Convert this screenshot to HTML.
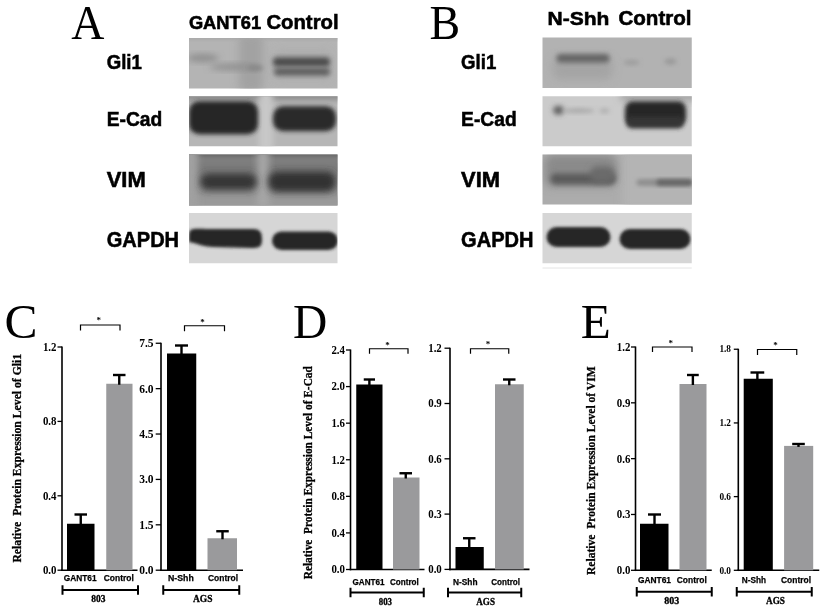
<!DOCTYPE html>
<html><head><meta charset="utf-8"><style>
html,body{margin:0;padding:0;background:#fff;width:824px;height:610px;overflow:hidden}
svg{display:block;filter:blur(0.35px)}
</style></head><body>
<svg width="824" height="610" viewBox="0 0 824 610">
<defs><filter id="b14" x="-50%" y="-50%" width="200%" height="200%"><feGaussianBlur stdDeviation="1.4"/></filter><filter id="b15" x="-50%" y="-50%" width="200%" height="200%"><feGaussianBlur stdDeviation="1.5"/></filter><filter id="b20" x="-50%" y="-50%" width="200%" height="200%"><feGaussianBlur stdDeviation="2.0"/></filter><filter id="b22" x="-50%" y="-50%" width="200%" height="200%"><feGaussianBlur stdDeviation="2.2"/></filter><filter id="b24" x="-50%" y="-50%" width="200%" height="200%"><feGaussianBlur stdDeviation="2.4"/></filter><filter id="b25" x="-50%" y="-50%" width="200%" height="200%"><feGaussianBlur stdDeviation="2.5"/></filter><filter id="b26" x="-50%" y="-50%" width="200%" height="200%"><feGaussianBlur stdDeviation="2.6"/></filter><filter id="b28" x="-50%" y="-50%" width="200%" height="200%"><feGaussianBlur stdDeviation="2.8"/></filter><filter id="b30" x="-50%" y="-50%" width="200%" height="200%"><feGaussianBlur stdDeviation="3.0"/></filter><filter id="b35" x="-50%" y="-50%" width="200%" height="200%"><feGaussianBlur stdDeviation="3.5"/></filter><filter id="b40" x="-50%" y="-50%" width="200%" height="200%"><feGaussianBlur stdDeviation="4.0"/></filter></defs>
<rect width="824" height="610" fill="#fff"/>
<g>
<rect x="189" y="38" width="148.5" height="50.5" fill="#b4b4b4"/>
<svg x="189" y="38" width="148.5" height="50.5" overflow="hidden">
<rect x="50" y="-5" width="24" height="60" rx="8" fill="#a2a2a2" opacity="1.0" filter="url(#b40)"/>
<rect x="-5" y="-5" width="160" height="6" rx="0" fill="#a6a6a6" opacity="1.0" filter="url(#b20)"/>
<ellipse cx="14" cy="20" rx="16" ry="4" fill="#8e8e8e" opacity="1.0" filter="url(#b30)"/>
<ellipse cx="46" cy="29" rx="26" ry="3.5" fill="#909090" opacity="1.0" filter="url(#b30)"/>
<ellipse cx="66" cy="30" rx="8" ry="3" fill="#888888" opacity="1.0" filter="url(#b20)"/>
<rect x="86" y="12" width="56" height="30" rx="6" fill="#a8a8a8" opacity="0.6" filter="url(#b40)"/>
<rect x="84" y="19.5" width="57" height="9" rx="4" fill="#4a4a4a" opacity="1.0" filter="url(#b26)"/>
<rect x="85" y="30" width="56" height="7.5" rx="3.5" fill="#5c5c5c" opacity="1.0" filter="url(#b26)"/>
</svg>
<rect x="189" y="96.25" width="148.5" height="50.0" fill="#b6b6b6"/>
<svg x="189" y="96.25" width="148.5" height="50.0" overflow="hidden">
<rect x="-5" y="-5" width="160" height="9" rx="0" fill="#8e8e8e" opacity="1.0" filter="url(#b25)"/>
<rect x="70" y="-5" width="14" height="60" rx="4" fill="#c8c8c8" opacity="1.0" filter="url(#b30)"/>
<rect x="0" y="5" width="69" height="33" rx="10" fill="#262626" opacity="1.0" filter="url(#b22)"/>
<rect x="84" y="10" width="63" height="25" rx="10" fill="#2a2a2a" opacity="1.0" filter="url(#b22)"/>
</svg>
<rect x="189" y="154.5" width="148.5" height="51.0" fill="#8a8a8a"/>
<svg x="189" y="154.5" width="148.5" height="51.0" overflow="hidden">
<rect x="-5" y="-5" width="160" height="8" rx="0" fill="#626262" opacity="1.0" filter="url(#b25)"/>
<rect x="-5" y="4" width="160" height="18" rx="0" fill="#7a7a7a" opacity="1.0" filter="url(#b40)"/>
<rect x="-5" y="40" width="160" height="20" rx="0" fill="#9a9a9a" opacity="1.0" filter="url(#b35)"/>
<rect x="-6" y="-5" width="15" height="60" rx="0" fill="#a0a0a0" opacity="1.0" filter="url(#b30)"/>
<rect x="68" y="-5" width="12" height="60" rx="4" fill="#a6a6a6" opacity="1.0" filter="url(#b35)"/>
<rect x="11" y="19" width="57" height="16.5" rx="8" fill="#353535" opacity="1.0" filter="url(#b35)"/>
<rect x="79" y="17" width="68" height="20.5" rx="9" fill="#313131" opacity="1.0" filter="url(#b35)"/>
</svg>
<rect x="189" y="213" width="148.5" height="50.25" fill="#d6d6d6"/>
<svg x="189" y="213" width="148.5" height="50.25" overflow="hidden">
<path d="M0,22 C0,14 6,16 20,16 L64,16 C72,16 73,20 73,27 C73,34 70,35 62,35 L24,34 C14,34 8,30 0,29 Z" fill="#262626" opacity="1.0" filter="url(#b15)"/>
<rect x="83" y="18.5" width="66" height="18.5" rx="9.5" fill="#282828" opacity="1.0" filter="url(#b15)"/>
</svg>
<rect x="542.5" y="37.5" width="149.25" height="50.5" fill="#b2b2b2"/>
<svg x="542.5" y="37.5" width="149.25" height="50.5" overflow="hidden">
<rect x="10" y="20" width="60" height="22" rx="8" fill="#a4a4a4" opacity="1.0" filter="url(#b40)"/>
<rect x="14" y="16.5" width="53" height="8.5" rx="4" fill="#646464" opacity="1.0" filter="url(#b26)"/>
<ellipse cx="89" cy="25" rx="8" ry="2.5" fill="#9c9c9c" opacity="1.0" filter="url(#b20)"/>
<ellipse cx="128" cy="24" rx="6" ry="3" fill="#989898" opacity="1.0" filter="url(#b20)"/>
</svg>
<rect x="542.5" y="96.25" width="149.25" height="50.0" fill="#cbcbcb"/>
<svg x="542.5" y="96.25" width="149.25" height="50.0" overflow="hidden">
<rect x="78" y="-5" width="80" height="10" rx="0" fill="#a8a8a8" opacity="1.0" filter="url(#b30)"/>
<ellipse cx="16" cy="14" rx="5.5" ry="4.5" fill="#626262" opacity="1.0" filter="url(#b24)"/>
<ellipse cx="36" cy="14.5" rx="16" ry="2.5" fill="#aaaaaa" opacity="1.0" filter="url(#b22)"/>
<ellipse cx="62" cy="14.5" rx="5" ry="2.5" fill="#b0b0b0" opacity="1.0" filter="url(#b22)"/>
<rect x="82.5" y="5" width="61" height="24" rx="8" fill="#262626" opacity="1.0" filter="url(#b22)"/>
<rect x="84" y="20" width="57" height="12" rx="5" fill="#363636" opacity="1.0" filter="url(#b22)"/>
</svg>
<rect x="542.5" y="154.5" width="149.25" height="50.0" fill="#acacac"/>
<svg x="542.5" y="154.5" width="149.25" height="50.0" overflow="hidden">
<rect x="80" y="-5" width="80" height="60" rx="0" fill="#b4b4b4" opacity="1.0" filter="url(#b40)"/>
<rect x="2" y="0" width="72" height="32" rx="8" fill="#8a8a8a" opacity="1.0" filter="url(#b40)"/>
<rect x="8" y="19" width="65" height="11" rx="5" fill="#5c5c5c" opacity="1.0" filter="url(#b28)"/>
<rect x="48" y="12" width="24" height="16" rx="6" fill="#6a6a6a" opacity="1.0" filter="url(#b30)"/>
<rect x="94" y="25" width="56" height="6" rx="3" fill="#8a8a8a" opacity="1.0" filter="url(#b20)"/>
<rect x="114" y="25" width="36" height="6" rx="3" fill="#626262" opacity="1.0" filter="url(#b20)"/>
</svg>
<rect x="542.5" y="213" width="149.25" height="50.25" fill="#d6d6d6"/>
<svg x="542.5" y="213" width="149.25" height="50.25" overflow="hidden">
<rect x="4" y="14" width="64" height="20" rx="10" fill="#262626" opacity="1.0" filter="url(#b14)"/>
<rect x="77" y="16" width="71" height="20" rx="10" fill="#282828" opacity="1.0" filter="url(#b14)"/>
</svg>
<line x1="542.5" y1="268" x2="691.75" y2="268" stroke="#e4e4e4" stroke-width="1"/>
</g>
<text transform="translate(71.24,39.18) scale(0.459,0.478)" x="0" y="0" font-family='"Liberation Serif", serif' font-size="100">A</text>
<text transform="translate(429.6,38.7) scale(0.459,0.483)" x="0" y="0" font-family='"Liberation Serif", serif' font-size="100">B</text>
<text x="188.9" y="29.4" font-family='"Liberation Sans", sans-serif' font-size="17.8" font-weight="bold" text-anchor="start" textLength="72.2" lengthAdjust="spacingAndGlyphs" stroke="#000" stroke-width="0.55">GANT61</text>
<text x="266.4" y="29.4" font-family='"Liberation Sans", sans-serif' font-size="20" font-weight="bold" text-anchor="start" textLength="72.2" lengthAdjust="spacingAndGlyphs" stroke="#000" stroke-width="0.55">Control</text>
<text x="547.6" y="25.1" font-family='"Liberation Sans", sans-serif' font-size="18.8" font-weight="bold" text-anchor="start" textLength="61.8" lengthAdjust="spacingAndGlyphs" stroke="#000" stroke-width="0.55">N-Shh</text>
<text x="618.4" y="25.1" font-family='"Liberation Sans", sans-serif' font-size="19.4" font-weight="bold" text-anchor="start" textLength="73.2" lengthAdjust="spacingAndGlyphs" stroke="#000" stroke-width="0.55">Control</text>
<text x="106.7" y="69.1" font-family='"Liberation Sans", sans-serif' font-size="21" font-weight="bold" text-anchor="start" textLength="35.2" lengthAdjust="spacingAndGlyphs" stroke="#000" stroke-width="0.55">Gli1</text>
<text x="106.7" y="126.3" font-family='"Liberation Sans", sans-serif' font-size="21" font-weight="bold" text-anchor="start" textLength="55.6" lengthAdjust="spacingAndGlyphs" stroke="#000" stroke-width="0.55">E-Cad</text>
<text x="106.7" y="187.0" font-family='"Liberation Sans", sans-serif' font-size="21.5" font-weight="bold" text-anchor="start" textLength="39.0" lengthAdjust="spacingAndGlyphs" stroke="#000" stroke-width="0.55">VIM</text>
<text x="106.7" y="246.9" font-family='"Liberation Sans", sans-serif' font-size="21.5" font-weight="bold" text-anchor="start" textLength="72.4" lengthAdjust="spacingAndGlyphs" stroke="#000" stroke-width="0.55">GAPDH</text>
<text x="461.1" y="69.1" font-family='"Liberation Sans", sans-serif' font-size="21" font-weight="bold" text-anchor="start" textLength="35.2" lengthAdjust="spacingAndGlyphs" stroke="#000" stroke-width="0.55">Gli1</text>
<text x="461.1" y="126.3" font-family='"Liberation Sans", sans-serif' font-size="21" font-weight="bold" text-anchor="start" textLength="55.6" lengthAdjust="spacingAndGlyphs" stroke="#000" stroke-width="0.55">E-Cad</text>
<text x="461.1" y="187.0" font-family='"Liberation Sans", sans-serif' font-size="21.5" font-weight="bold" text-anchor="start" textLength="39.0" lengthAdjust="spacingAndGlyphs" stroke="#000" stroke-width="0.55">VIM</text>
<text x="461.1" y="246.9" font-family='"Liberation Sans", sans-serif' font-size="21.5" font-weight="bold" text-anchor="start" textLength="72.4" lengthAdjust="spacingAndGlyphs" stroke="#000" stroke-width="0.55">GAPDH</text>
<text transform="translate(4.52,337.94) scale(0.495,0.479)" x="0" y="0" font-family='"Liberation Serif", serif' font-size="100">C</text>
<line x1="62" y1="346.5" x2="62" y2="570.95" stroke="#000" stroke-width="1.6"/>
<line x1="61.2" y1="570.2" x2="137.5" y2="570.2" stroke="#000" stroke-width="1.6"/>
<line x1="57.5" y1="570.2" x2="62" y2="570.2" stroke="#000" stroke-width="1.3"/>
<text x="56.5" y="574.1" font-family='"Liberation Serif", serif' font-size="12" font-weight="bold" text-anchor="end" textLength="13.6" lengthAdjust="spacingAndGlyphs" >0.0</text>
<line x1="57.5" y1="495.8" x2="62" y2="495.8" stroke="#000" stroke-width="1.3"/>
<text x="56.5" y="499.7" font-family='"Liberation Serif", serif' font-size="12" font-weight="bold" text-anchor="end" textLength="13.6" lengthAdjust="spacingAndGlyphs" >0.4</text>
<line x1="57.5" y1="421.4" x2="62" y2="421.4" stroke="#000" stroke-width="1.3"/>
<text x="56.5" y="425.29999999999995" font-family='"Liberation Serif", serif' font-size="12" font-weight="bold" text-anchor="end" textLength="13.6" lengthAdjust="spacingAndGlyphs" >0.8</text>
<line x1="57.5" y1="347.0" x2="62" y2="347.0" stroke="#000" stroke-width="1.3"/>
<text x="56.5" y="350.9" font-family='"Liberation Serif", serif' font-size="12" font-weight="bold" text-anchor="end" textLength="13.6" lengthAdjust="spacingAndGlyphs" >1.2</text>
<rect x="67" y="523.75" width="27.5" height="46.450000000000045" fill="#000"/>
<line x1="80.75" y1="514.5" x2="80.75" y2="524.75" stroke="#000" stroke-width="2.4"/>
<line x1="74.5" y1="514.5" x2="87" y2="514.5" stroke="#000" stroke-width="2.4"/>
<rect x="106.25" y="383.75" width="26.25" height="186.45000000000005" fill="#9a9a9c"/>
<line x1="119.25" y1="375" x2="119.25" y2="384.75" stroke="#000" stroke-width="2.4"/>
<line x1="113" y1="375" x2="125.5" y2="375" stroke="#000" stroke-width="2.4"/>
<polyline points="80.5,330.5 80.5,325 120,325 120,330.5" fill="none" stroke="#000" stroke-width="1.2"/>
<text x="98.75" y="323.2" font-family='"Liberation Serif", serif' font-size="9" font-weight="bold" text-anchor="middle" >*</text>
<text x="63.75" y="581" font-family='"Liberation Sans", sans-serif' font-size="9" font-weight="bold" text-anchor="start" textLength="32.75" lengthAdjust="spacingAndGlyphs" stroke="#000" stroke-width="0.25">GANT61</text>
<text x="103.75" y="581" font-family='"Liberation Sans", sans-serif' font-size="9" font-weight="bold" text-anchor="start" textLength="30.0" lengthAdjust="spacingAndGlyphs" stroke="#000" stroke-width="0.25">Control</text>
<line x1="62.5" y1="590" x2="138" y2="590" stroke="#000" stroke-width="2"/>
<line x1="62.5" y1="585.25" x2="62.5" y2="594.75" stroke="#000" stroke-width="2"/>
<line x1="138" y1="585.25" x2="138" y2="594.75" stroke="#000" stroke-width="2"/>
<text x="91.25" y="602" font-family='"Liberation Serif", serif' font-size="9.5" font-weight="bold" text-anchor="start" textLength="14.25" lengthAdjust="spacingAndGlyphs" stroke="#000" stroke-width="0.3">803</text>
<line x1="161" y1="342.75" x2="161" y2="570.95" stroke="#000" stroke-width="1.6"/>
<line x1="160.2" y1="570.2" x2="243" y2="570.2" stroke="#000" stroke-width="1.6"/>
<line x1="155.7" y1="570.2" x2="161" y2="570.2" stroke="#000" stroke-width="1.3"/>
<text x="153.6" y="574.1" font-family='"Liberation Serif", serif' font-size="12" font-weight="bold" text-anchor="end" textLength="14.4" lengthAdjust="spacingAndGlyphs" >0.0</text>
<line x1="155.7" y1="524.8100000000001" x2="161" y2="524.8100000000001" stroke="#000" stroke-width="1.3"/>
<text x="153.6" y="528.71" font-family='"Liberation Serif", serif' font-size="12" font-weight="bold" text-anchor="end" textLength="14.4" lengthAdjust="spacingAndGlyphs" >1.5</text>
<line x1="155.7" y1="479.42" x2="161" y2="479.42" stroke="#000" stroke-width="1.3"/>
<text x="153.6" y="483.32" font-family='"Liberation Serif", serif' font-size="12" font-weight="bold" text-anchor="end" textLength="14.4" lengthAdjust="spacingAndGlyphs" >3.0</text>
<line x1="155.7" y1="434.03000000000003" x2="161" y2="434.03000000000003" stroke="#000" stroke-width="1.3"/>
<text x="153.6" y="437.93" font-family='"Liberation Serif", serif' font-size="12" font-weight="bold" text-anchor="end" textLength="14.4" lengthAdjust="spacingAndGlyphs" >4.5</text>
<line x1="155.7" y1="388.64" x2="161" y2="388.64" stroke="#000" stroke-width="1.3"/>
<text x="153.6" y="392.53999999999996" font-family='"Liberation Serif", serif' font-size="12" font-weight="bold" text-anchor="end" textLength="14.4" lengthAdjust="spacingAndGlyphs" >6.0</text>
<line x1="155.7" y1="343.25" x2="161" y2="343.25" stroke="#000" stroke-width="1.3"/>
<text x="153.6" y="347.15" font-family='"Liberation Serif", serif' font-size="12" font-weight="bold" text-anchor="end" textLength="14.4" lengthAdjust="spacingAndGlyphs" >7.5</text>
<rect x="167" y="353.5" width="29.25" height="216.70000000000005" fill="#000"/>
<line x1="181.5" y1="345.5" x2="181.5" y2="354.5" stroke="#000" stroke-width="2.4"/>
<line x1="175" y1="345.5" x2="188" y2="345.5" stroke="#000" stroke-width="2.4"/>
<rect x="207.5" y="538.25" width="29.5" height="31.950000000000045" fill="#9a9a9c"/>
<line x1="222.5" y1="531.25" x2="222.5" y2="539.25" stroke="#000" stroke-width="2.4"/>
<line x1="216.25" y1="531.25" x2="228.75" y2="531.25" stroke="#000" stroke-width="2.4"/>
<polyline points="184.5,331.25 184.5,325.75 224.5,325.75 224.5,331.25" fill="none" stroke="#000" stroke-width="1.2"/>
<text x="202.5" y="324.7" font-family='"Liberation Serif", serif' font-size="9" font-weight="bold" text-anchor="middle" >*</text>
<text x="168" y="581" font-family='"Liberation Sans", sans-serif' font-size="9" font-weight="bold" text-anchor="start" textLength="25.75" lengthAdjust="spacingAndGlyphs" stroke="#000" stroke-width="0.25">N-Shh</text>
<text x="208" y="581" font-family='"Liberation Sans", sans-serif' font-size="9" font-weight="bold" text-anchor="start" textLength="30" lengthAdjust="spacingAndGlyphs" stroke="#000" stroke-width="0.25">Control</text>
<line x1="163.25" y1="590" x2="239.25" y2="590" stroke="#000" stroke-width="2"/>
<line x1="163.25" y1="585.25" x2="163.25" y2="594.75" stroke="#000" stroke-width="2"/>
<line x1="239.25" y1="585.25" x2="239.25" y2="594.75" stroke="#000" stroke-width="2"/>
<text x="193" y="602" font-family='"Liberation Serif", serif' font-size="9.5" font-weight="bold" text-anchor="start" textLength="19.5" lengthAdjust="spacingAndGlyphs" stroke="#000" stroke-width="0.3">AGS</text>
<text transform="translate(292.9,338.3) scale(0.475,0.482)" x="0" y="0" font-family='"Liberation Serif", serif' font-size="100">D</text>
<line x1="350.5" y1="349.5" x2="350.5" y2="570.25" stroke="#000" stroke-width="1.6"/>
<line x1="349.7" y1="569.5" x2="424.5" y2="569.5" stroke="#000" stroke-width="1.6"/>
<line x1="346.0" y1="569.5" x2="350.5" y2="569.5" stroke="#000" stroke-width="1.3"/>
<text x="345.0" y="573.4" font-family='"Liberation Serif", serif' font-size="12" font-weight="bold" text-anchor="end" textLength="13.6" lengthAdjust="spacingAndGlyphs" >0.0</text>
<line x1="346.0" y1="532.9166666666666" x2="350.5" y2="532.9166666666666" stroke="#000" stroke-width="1.3"/>
<text x="345.0" y="536.8166666666666" font-family='"Liberation Serif", serif' font-size="12" font-weight="bold" text-anchor="end" textLength="13.6" lengthAdjust="spacingAndGlyphs" >0.4</text>
<line x1="346.0" y1="496.3333333333333" x2="350.5" y2="496.3333333333333" stroke="#000" stroke-width="1.3"/>
<text x="345.0" y="500.2333333333333" font-family='"Liberation Serif", serif' font-size="12" font-weight="bold" text-anchor="end" textLength="13.6" lengthAdjust="spacingAndGlyphs" >0.8</text>
<line x1="346.0" y1="459.75" x2="350.5" y2="459.75" stroke="#000" stroke-width="1.3"/>
<text x="345.0" y="463.65" font-family='"Liberation Serif", serif' font-size="12" font-weight="bold" text-anchor="end" textLength="13.6" lengthAdjust="spacingAndGlyphs" >1.2</text>
<line x1="346.0" y1="423.16666666666663" x2="350.5" y2="423.16666666666663" stroke="#000" stroke-width="1.3"/>
<text x="345.0" y="427.0666666666666" font-family='"Liberation Serif", serif' font-size="12" font-weight="bold" text-anchor="end" textLength="13.6" lengthAdjust="spacingAndGlyphs" >1.6</text>
<line x1="346.0" y1="386.5833333333333" x2="350.5" y2="386.5833333333333" stroke="#000" stroke-width="1.3"/>
<text x="345.0" y="390.4833333333333" font-family='"Liberation Serif", serif' font-size="12" font-weight="bold" text-anchor="end" textLength="13.6" lengthAdjust="spacingAndGlyphs" >2.0</text>
<line x1="346.0" y1="350.0" x2="350.5" y2="350.0" stroke="#000" stroke-width="1.3"/>
<text x="345.0" y="353.9" font-family='"Liberation Serif", serif' font-size="12" font-weight="bold" text-anchor="end" textLength="13.6" lengthAdjust="spacingAndGlyphs" >2.4</text>
<rect x="356.25" y="384.5" width="26.25" height="185.0" fill="#000"/>
<line x1="369.375" y1="379.5" x2="369.375" y2="385.5" stroke="#000" stroke-width="2.4"/>
<line x1="363.75" y1="379.5" x2="375" y2="379.5" stroke="#000" stroke-width="2.4"/>
<rect x="393" y="477.5" width="26.5" height="92.0" fill="#9a9a9c"/>
<line x1="405.75" y1="473.25" x2="405.75" y2="478.5" stroke="#000" stroke-width="2.4"/>
<line x1="399.5" y1="473.25" x2="412" y2="473.25" stroke="#000" stroke-width="2.4"/>
<polyline points="369.5,353.75 369.5,348.75 408,348.75 408,353.75" fill="none" stroke="#000" stroke-width="1.2"/>
<text x="387.5" y="347.7" font-family='"Liberation Serif", serif' font-size="9" font-weight="bold" text-anchor="middle" >*</text>
<text x="352.5" y="584.5" font-family='"Liberation Sans", sans-serif' font-size="9" font-weight="bold" text-anchor="start" textLength="32.0" lengthAdjust="spacingAndGlyphs" stroke="#000" stroke-width="0.25">GANT61</text>
<text x="390" y="584.5" font-family='"Liberation Sans", sans-serif' font-size="9" font-weight="bold" text-anchor="start" textLength="28.75" lengthAdjust="spacingAndGlyphs" stroke="#000" stroke-width="0.25">Control</text>
<line x1="350.5" y1="592.5" x2="423.75" y2="592.5" stroke="#000" stroke-width="2"/>
<line x1="350.5" y1="587.75" x2="350.5" y2="597.25" stroke="#000" stroke-width="2"/>
<line x1="423.75" y1="587.75" x2="423.75" y2="597.25" stroke="#000" stroke-width="2"/>
<text x="378.75" y="605" font-family='"Liberation Serif", serif' font-size="9.5" font-weight="bold" text-anchor="start" textLength="13.25" lengthAdjust="spacingAndGlyphs" stroke="#000" stroke-width="0.3">803</text>
<line x1="450" y1="347.7" x2="450" y2="570.15" stroke="#000" stroke-width="1.6"/>
<line x1="449.2" y1="569.4" x2="529.5" y2="569.4" stroke="#000" stroke-width="1.6"/>
<line x1="444.5" y1="569.4" x2="450" y2="569.4" stroke="#000" stroke-width="1.3"/>
<text x="441.8" y="573.3" font-family='"Liberation Serif", serif' font-size="12" font-weight="bold" text-anchor="end" textLength="13.6" lengthAdjust="spacingAndGlyphs" >0.0</text>
<line x1="444.5" y1="514.1" x2="450" y2="514.1" stroke="#000" stroke-width="1.3"/>
<text x="441.8" y="518.0" font-family='"Liberation Serif", serif' font-size="12" font-weight="bold" text-anchor="end" textLength="13.6" lengthAdjust="spacingAndGlyphs" >0.3</text>
<line x1="444.5" y1="458.79999999999995" x2="450" y2="458.79999999999995" stroke="#000" stroke-width="1.3"/>
<text x="441.8" y="462.69999999999993" font-family='"Liberation Serif", serif' font-size="12" font-weight="bold" text-anchor="end" textLength="13.6" lengthAdjust="spacingAndGlyphs" >0.6</text>
<line x1="444.5" y1="403.5" x2="450" y2="403.5" stroke="#000" stroke-width="1.3"/>
<text x="441.8" y="407.4" font-family='"Liberation Serif", serif' font-size="12" font-weight="bold" text-anchor="end" textLength="13.6" lengthAdjust="spacingAndGlyphs" >0.9</text>
<line x1="444.5" y1="348.19999999999993" x2="450" y2="348.19999999999993" stroke="#000" stroke-width="1.3"/>
<text x="441.8" y="352.0999999999999" font-family='"Liberation Serif", serif' font-size="12" font-weight="bold" text-anchor="end" textLength="13.6" lengthAdjust="spacingAndGlyphs" >1.2</text>
<rect x="455.5" y="547" width="28.25" height="22.399999999999977" fill="#000"/>
<line x1="469.25" y1="538.25" x2="469.25" y2="548" stroke="#000" stroke-width="2.4"/>
<line x1="463" y1="538.25" x2="475.5" y2="538.25" stroke="#000" stroke-width="2.4"/>
<rect x="495" y="384.25" width="28.75" height="185.14999999999998" fill="#9a9a9c"/>
<line x1="509.25" y1="379.5" x2="509.25" y2="385.25" stroke="#000" stroke-width="2.4"/>
<line x1="503" y1="379.5" x2="515.5" y2="379.5" stroke="#000" stroke-width="2.4"/>
<polyline points="470.5,353.75 470.5,348.75 508.75,348.75 508.75,353.75" fill="none" stroke="#000" stroke-width="1.2"/>
<text x="488" y="347.2" font-family='"Liberation Serif", serif' font-size="9" font-weight="bold" text-anchor="middle" >*</text>
<text x="453" y="584.5" font-family='"Liberation Sans", sans-serif' font-size="9" font-weight="bold" text-anchor="start" textLength="24.5" lengthAdjust="spacingAndGlyphs" stroke="#000" stroke-width="0.25">N-Shh</text>
<text x="491.25" y="584.5" font-family='"Liberation Sans", sans-serif' font-size="9" font-weight="bold" text-anchor="start" textLength="28.75" lengthAdjust="spacingAndGlyphs" stroke="#000" stroke-width="0.25">Control</text>
<line x1="448" y1="592.5" x2="521.25" y2="592.5" stroke="#000" stroke-width="2"/>
<line x1="448" y1="587.75" x2="448" y2="597.25" stroke="#000" stroke-width="2"/>
<line x1="521.25" y1="587.75" x2="521.25" y2="597.25" stroke="#000" stroke-width="2"/>
<text x="476.25" y="605" font-family='"Liberation Serif", serif' font-size="9.5" font-weight="bold" text-anchor="start" textLength="18.75" lengthAdjust="spacingAndGlyphs" stroke="#000" stroke-width="0.3">AGS</text>
<text transform="translate(580.8,338.2) scale(0.492,0.48)" x="0" y="0" font-family='"Liberation Serif", serif' font-size="100">E</text>
<line x1="635.5" y1="346.5" x2="635.5" y2="571.05" stroke="#000" stroke-width="1.6"/>
<line x1="634.7" y1="570.3" x2="711.75" y2="570.3" stroke="#000" stroke-width="1.6"/>
<line x1="631.0" y1="570.3" x2="635.5" y2="570.3" stroke="#000" stroke-width="1.3"/>
<text x="630.4" y="574.1999999999999" font-family='"Liberation Serif", serif' font-size="12" font-weight="bold" text-anchor="end" textLength="13.6" lengthAdjust="spacingAndGlyphs" >0.0</text>
<line x1="631.0" y1="514.4749999999999" x2="635.5" y2="514.4749999999999" stroke="#000" stroke-width="1.3"/>
<text x="630.4" y="518.3749999999999" font-family='"Liberation Serif", serif' font-size="12" font-weight="bold" text-anchor="end" textLength="13.6" lengthAdjust="spacingAndGlyphs" >0.3</text>
<line x1="631.0" y1="458.65" x2="635.5" y2="458.65" stroke="#000" stroke-width="1.3"/>
<text x="630.4" y="462.54999999999995" font-family='"Liberation Serif", serif' font-size="12" font-weight="bold" text-anchor="end" textLength="13.6" lengthAdjust="spacingAndGlyphs" >0.6</text>
<line x1="631.0" y1="402.82499999999993" x2="635.5" y2="402.82499999999993" stroke="#000" stroke-width="1.3"/>
<text x="630.4" y="406.7249999999999" font-family='"Liberation Serif", serif' font-size="12" font-weight="bold" text-anchor="end" textLength="13.6" lengthAdjust="spacingAndGlyphs" >0.9</text>
<line x1="631.0" y1="347.0" x2="635.5" y2="347.0" stroke="#000" stroke-width="1.3"/>
<text x="630.4" y="350.9" font-family='"Liberation Serif", serif' font-size="12" font-weight="bold" text-anchor="end" textLength="13.6" lengthAdjust="spacingAndGlyphs" >1.2</text>
<rect x="640" y="523.75" width="28.5" height="46.549999999999955" fill="#000"/>
<line x1="654.5" y1="514.5" x2="654.5" y2="524.75" stroke="#000" stroke-width="2.4"/>
<line x1="648" y1="514.5" x2="661" y2="514.5" stroke="#000" stroke-width="2.4"/>
<rect x="679.5" y="384" width="27.0" height="186.29999999999995" fill="#9a9a9c"/>
<line x1="692.875" y1="375" x2="692.875" y2="385" stroke="#000" stroke-width="2.4"/>
<line x1="687" y1="375" x2="698.75" y2="375" stroke="#000" stroke-width="2.4"/>
<polyline points="652.5,352 652.5,347 692,347 692,352" fill="none" stroke="#000" stroke-width="1.2"/>
<text x="670.75" y="346.45" font-family='"Liberation Serif", serif' font-size="9" font-weight="bold" text-anchor="middle" >*</text>
<text x="638" y="582.5" font-family='"Liberation Sans", sans-serif' font-size="9" font-weight="bold" text-anchor="start" textLength="33" lengthAdjust="spacingAndGlyphs" stroke="#000" stroke-width="0.25">GANT61</text>
<text x="676.75" y="582.5" font-family='"Liberation Sans", sans-serif' font-size="9" font-weight="bold" text-anchor="start" textLength="30.0" lengthAdjust="spacingAndGlyphs" stroke="#000" stroke-width="0.25">Control</text>
<line x1="636.75" y1="591.75" x2="711.75" y2="591.75" stroke="#000" stroke-width="2"/>
<line x1="636.75" y1="587.0" x2="636.75" y2="596.5" stroke="#000" stroke-width="2"/>
<line x1="711.75" y1="587.0" x2="711.75" y2="596.5" stroke="#000" stroke-width="2"/>
<text x="664.25" y="603.75" font-family='"Liberation Serif", serif' font-size="9.5" font-weight="bold" text-anchor="start" textLength="15.0" lengthAdjust="spacingAndGlyphs" stroke="#000" stroke-width="0.3">803</text>
<line x1="738.3" y1="348.75" x2="738.3" y2="571.05" stroke="#000" stroke-width="1.6"/>
<line x1="737.5" y1="570.3" x2="819.25" y2="570.3" stroke="#000" stroke-width="1.6"/>
<line x1="733.8" y1="570.3" x2="738.3" y2="570.3" stroke="#000" stroke-width="1.3"/>
<text x="731.0" y="573.5" font-family='"Liberation Serif", serif' font-size="9.6" font-weight="bold" text-anchor="end" textLength="11.6" lengthAdjust="spacingAndGlyphs" >0.0</text>
<line x1="733.8" y1="496.6166666666667" x2="738.3" y2="496.6166666666667" stroke="#000" stroke-width="1.3"/>
<text x="731.0" y="499.81666666666666" font-family='"Liberation Serif", serif' font-size="9.6" font-weight="bold" text-anchor="end" textLength="11.6" lengthAdjust="spacingAndGlyphs" >0.6</text>
<line x1="733.8" y1="422.93333333333334" x2="738.3" y2="422.93333333333334" stroke="#000" stroke-width="1.3"/>
<text x="731.0" y="426.1333333333333" font-family='"Liberation Serif", serif' font-size="9.6" font-weight="bold" text-anchor="end" textLength="11.6" lengthAdjust="spacingAndGlyphs" >1.2</text>
<line x1="733.8" y1="349.25" x2="738.3" y2="349.25" stroke="#000" stroke-width="1.3"/>
<text x="731.0" y="352.45" font-family='"Liberation Serif", serif' font-size="9.6" font-weight="bold" text-anchor="end" textLength="11.6" lengthAdjust="spacingAndGlyphs" >1.8</text>
<rect x="743.7" y="378.75" width="29.09999999999991" height="191.54999999999995" fill="#000"/>
<line x1="757.375" y1="372.5" x2="757.375" y2="379.75" stroke="#000" stroke-width="2.4"/>
<line x1="750.5" y1="372.5" x2="764.25" y2="372.5" stroke="#000" stroke-width="2.4"/>
<rect x="784.1" y="445.9" width="29.100000000000023" height="124.39999999999998" fill="#9a9a9c"/>
<line x1="798.5" y1="444" x2="798.5" y2="446.9" stroke="#000" stroke-width="2.4"/>
<line x1="792.2" y1="444" x2="804.8" y2="444" stroke="#000" stroke-width="2.4"/>
<polyline points="757.5,355 757.5,349.5 796.75,349.5 796.75,355" fill="none" stroke="#000" stroke-width="1.2"/>
<text x="775.5" y="348.2" font-family='"Liberation Serif", serif' font-size="9" font-weight="bold" text-anchor="middle" >*</text>
<text x="741.75" y="582.5" font-family='"Liberation Sans", sans-serif' font-size="9" font-weight="bold" text-anchor="start" textLength="24.25" lengthAdjust="spacingAndGlyphs" stroke="#000" stroke-width="0.25">N-Shh</text>
<text x="781" y="582.5" font-family='"Liberation Sans", sans-serif' font-size="9" font-weight="bold" text-anchor="start" textLength="30" lengthAdjust="spacingAndGlyphs" stroke="#000" stroke-width="0.25">Control</text>
<line x1="736.75" y1="591.75" x2="811.75" y2="591.75" stroke="#000" stroke-width="2"/>
<line x1="736.75" y1="587.0" x2="736.75" y2="596.5" stroke="#000" stroke-width="2"/>
<line x1="811.75" y1="587.0" x2="811.75" y2="596.5" stroke="#000" stroke-width="2"/>
<text x="766" y="603.75" font-family='"Liberation Serif", serif' font-size="9.5" font-weight="bold" text-anchor="start" textLength="19" lengthAdjust="spacingAndGlyphs" stroke="#000" stroke-width="0.3">AGS</text>
<text transform="translate(21.4,562.6) rotate(-90)" x="0" y="0" font-family='"Liberation Serif", serif' font-size="13" font-weight="bold" textLength="208.70000000000005" lengthAdjust="spacingAndGlyphs" stroke="#000" stroke-width="0.3" xml:space="preserve">Relative  Protein Expression Level of Gli1</text>
<text transform="translate(312.2,579.3) rotate(-90)" x="0" y="0" font-family='"Liberation Serif", serif' font-size="13" font-weight="bold" textLength="213.09999999999997" lengthAdjust="spacingAndGlyphs" stroke="#000" stroke-width="0.3" xml:space="preserve">Relative  Protein Expression Level of E-Cad</text>
<text transform="translate(595.0,575.0) rotate(-90)" x="0" y="0" font-family='"Liberation Serif", serif' font-size="13" font-weight="bold" textLength="208.60000000000002" lengthAdjust="spacingAndGlyphs" stroke="#000" stroke-width="0.3" xml:space="preserve">Relative  Protein Expression Level of VIM</text>
</svg>
</body></html>
